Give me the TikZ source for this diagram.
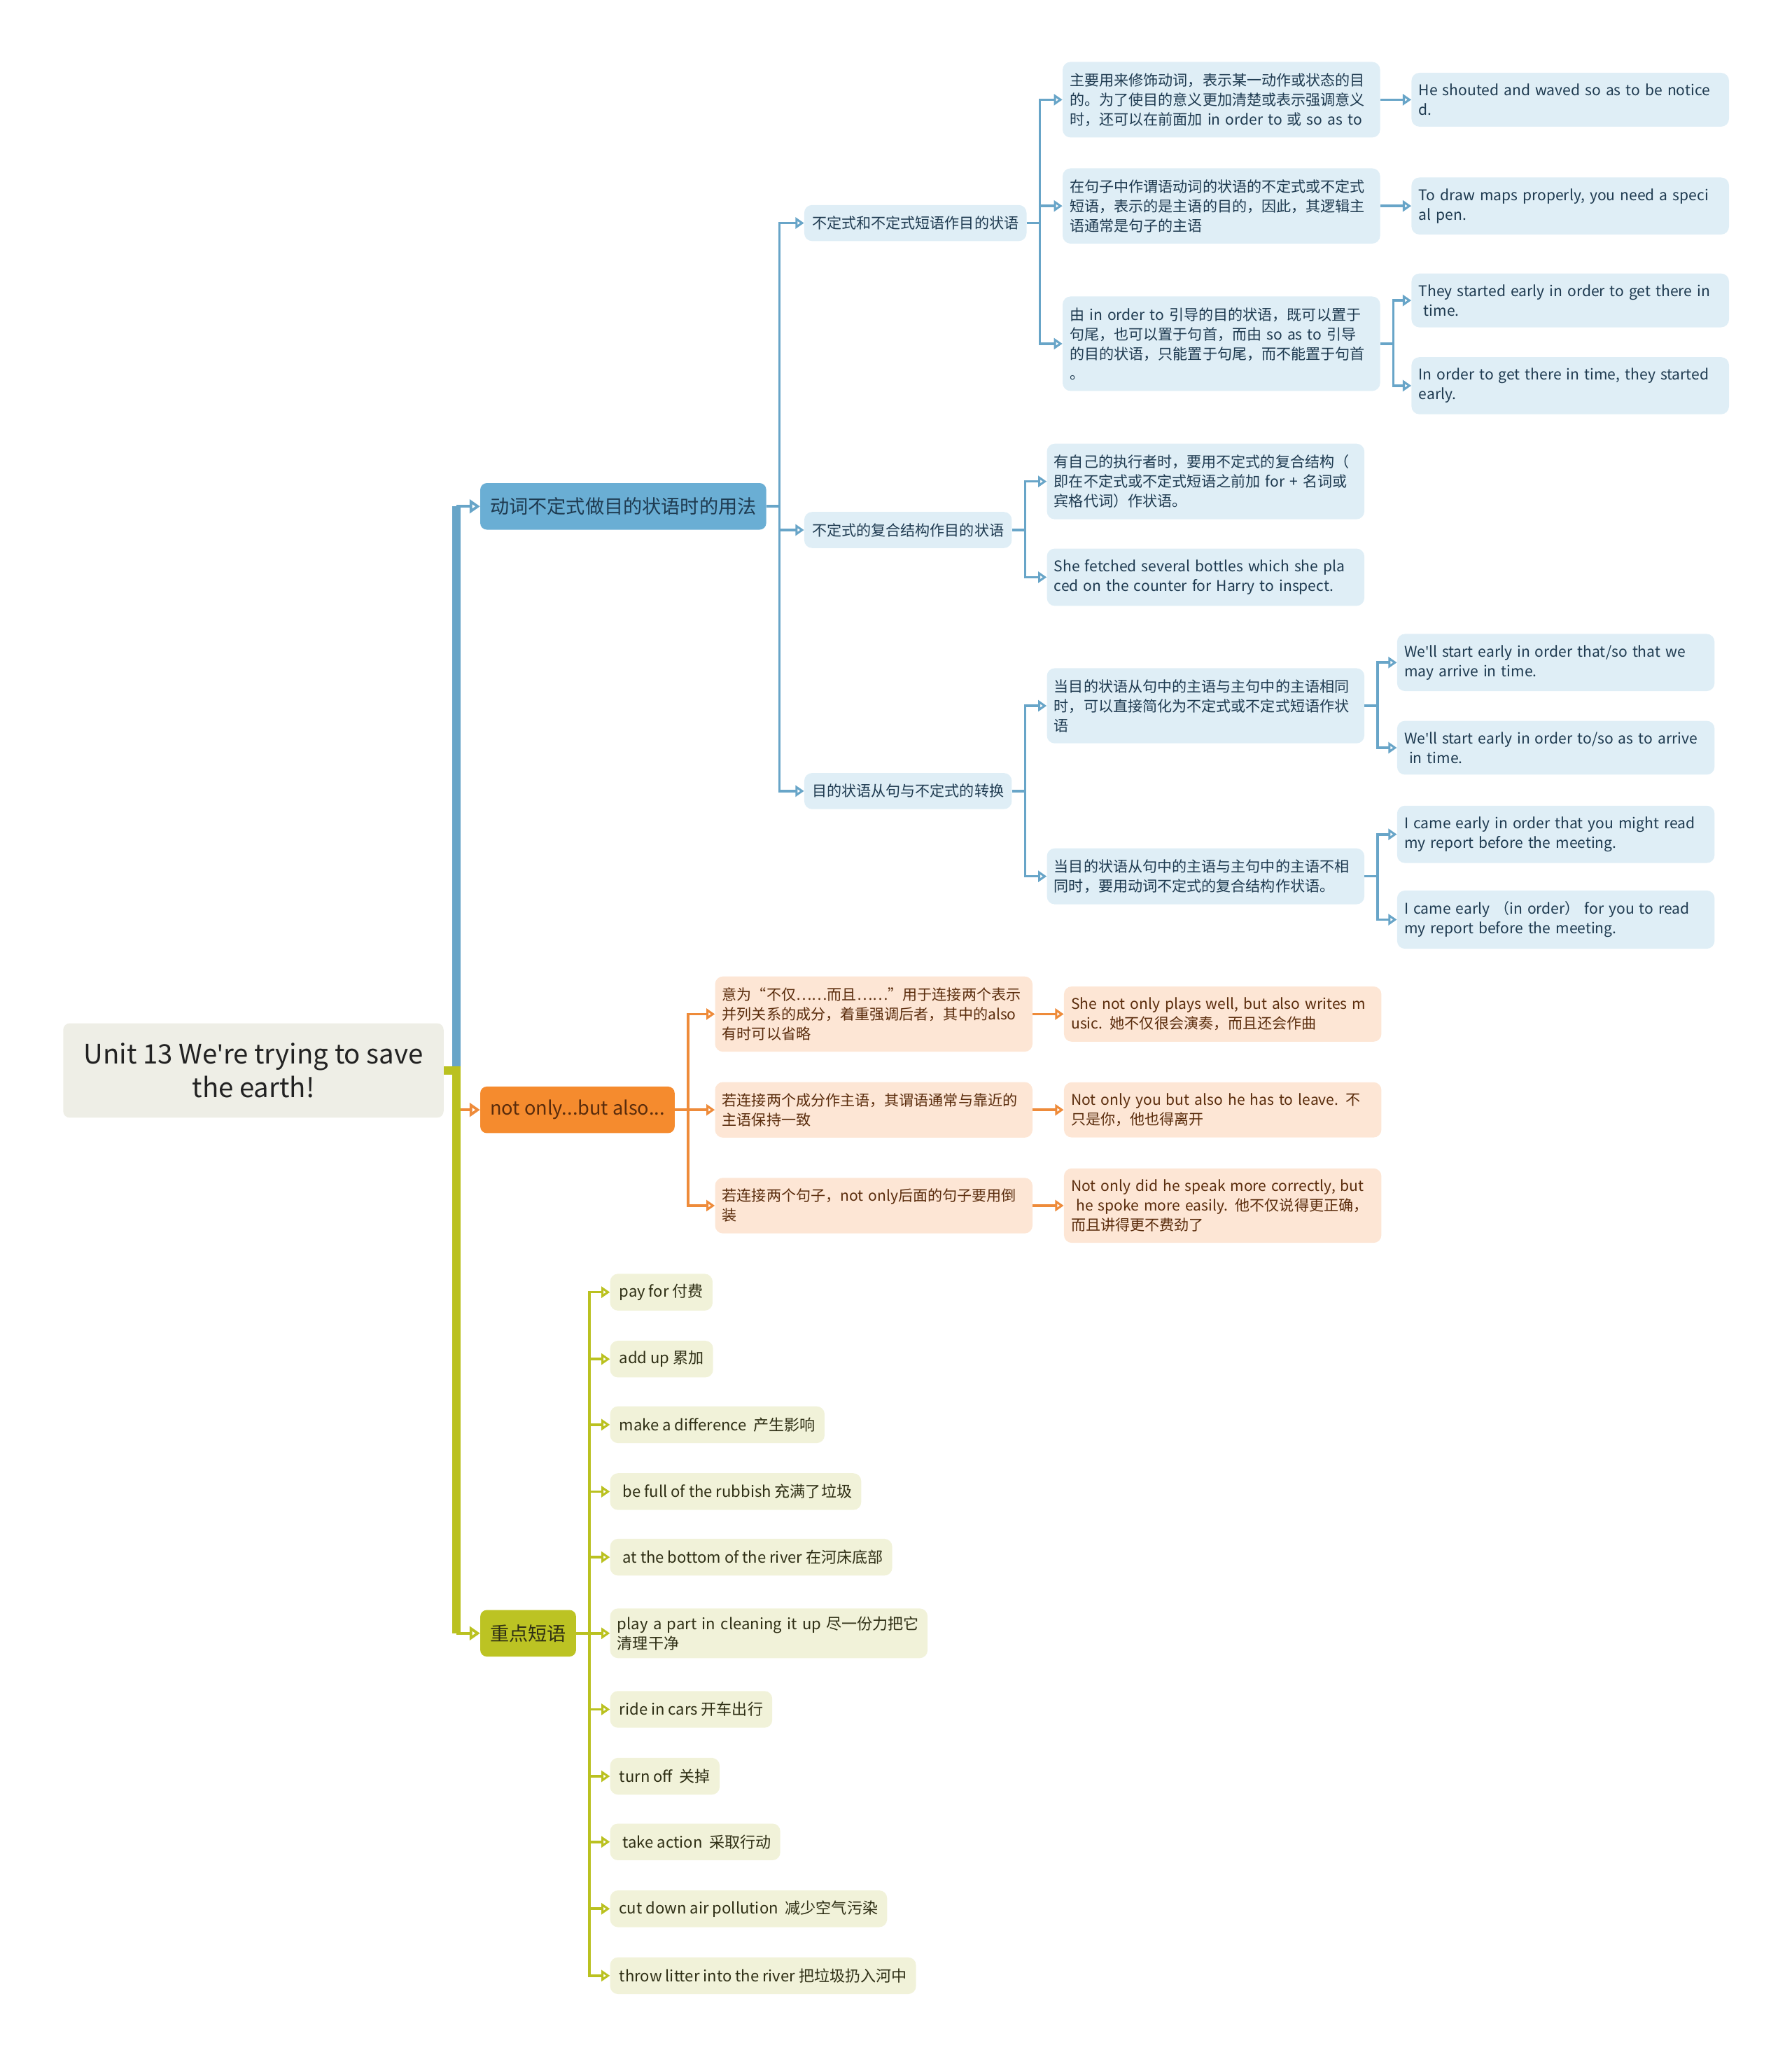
\documentclass[tikz,border=0pt]{standalone}
\usepackage{fontspec}
\setmainfont{Noto Sans CJK SC}
\newfontfamily\latinfont{Noto Sans}
\newcommand\aposign{{\latinfont'}}
\usetikzlibrary{arrows.meta,calc}

\definecolor{rootfill}{HTML}{EEEEE6}
\definecolor{rootink}{HTML}{222222}
\definecolor{bluemain}{HTML}{6AAED4}
\definecolor{bluesoft}{HTML}{DFEEF6}
\definecolor{blueline}{HTML}{68A5C8}
\definecolor{blueink}{HTML}{1E3A50}
\definecolor{orangemain}{HTML}{F58B2E}
\definecolor{orangesoft}{HTML}{FDE6D5}
\definecolor{orangeline}{HTML}{EE8B3A}
\definecolor{orangeink}{HTML}{5A2C0C}
\definecolor{greenmain}{HTML}{BCC323}
\definecolor{greensoft}{HTML}{F1F2D9}
\definecolor{greenline}{HTML}{BAC120}
\definecolor{greenink}{HTML}{2E2E14}

\begin{document}
\begin{tikzpicture}[
  x=0.04cm, y=-0.04cm,
  rootbox/.style={fill=rootfill, text=rootink, rounded corners=0.2cm, align=center, minimum width=11.6cm, minimum height=2.88cm, font=\fontsize{23.3}{29.5}\selectfont},
  mainbox/.style={rounded corners=0.2cm, minimum height=1.42cm, inner xsep=0.3cm, font=\fontsize{16.5}{20}\selectfont},
  subbox/.style={rounded corners=0.24cm, minimum height=1.1cm, inner xsep=0.24cm, font=\fontsize{12.8}{17}\selectfont},
  notebox/.style={subbox, text width=9.24cm, inner xsep=0.22cm, align=left, inner ysep=0.34cm},
  phrase/.style={subbox, minimum height=1.12cm, inner xsep=0.28cm, fill=greensoft, text=greenink, font=\fontsize{13.4}{17}\selectfont},
  bluepart/.style={fill=bluesoft, text=blueink},
  orangepart/.style={fill=orangesoft, text=orangeink},
  link/.style={line width=2.2pt, -{Triangle[open, length=0.26cm, width=0.34cm]}},
  stem/.style={line width=2.6pt, -{Triangle[open, length=0.32cm, width=0.42cm]}},
  trunk/.style={line width=0.25cm}
]
\useasboundingbox (0,0) rectangle (1366,1568);

% root and main branches
\node[rootbox, anchor=west] (root) at (48,816) {Unit 13 We\aposign re trying to save\\the earth!};
\node[mainbox, fill=bluemain, text=blueink, anchor=west] (usage) at (366,386) {动词不定式做目的状语时的用法};
\node[mainbox, fill=orangemain, text=orangeink, anchor=west] (notonly) at (366,846) {not only...but also...};
\node[mainbox, fill=greenmain, text=greenink, anchor=west] (phrases) at (366,1245) {重点短语};

% blue branch
\node[subbox, bluepart, anchor=west] (advinf) at (613,170) {不定式和不定式短语作目的状语};
\node[subbox, bluepart, anchor=west] (complex) at (613,404) {不定式的复合结构作目的状语};
\node[subbox, bluepart, anchor=west] (convert) at (613,603) {目的状语从句与不定式的转换};

\node[notebox, bluepart, anchor=west] (modify) at (810,76) {主要用来修饰动词，表示某一动作或状态的目\\的。为了使目的意义更加清楚或表示强调意义\\时，还可以在前面加 in order to 或 so as to};
\node[notebox, bluepart, anchor=west] (subject) at (810,157) {在句子中作谓语动词的状语的不定式或不定式\\短语，表示的是主语的目的，因此，其逻辑主\\语通常是句子的主语};
\node[notebox, bluepart, anchor=west] (position) at (810,262) {由 in order to 引导的目的状语，既可以置于\\句尾，也可以置于句首，而由 so as to 引导\\的目的状语，只能置于句尾，而不能置于句首\\。};
\node[notebox, bluepart, anchor=west] (shouted) at (1076,76) {He shouted and waved so as to be notice\\d.};
\node[notebox, bluepart, anchor=west] (maps) at (1076,157) {To draw maps properly, you need a speci\\al pen.};
\node[notebox, bluepart, anchor=west] (earlyend) at (1076,229) {They started early in order to get there in\\\ time.};
\node[notebox, bluepart, anchor=west] (earlyfront) at (1076,294) {In order to get there in time, they started\\early.};

\node[notebox, bluepart, anchor=west] (doer) at (798,367) {有自己的执行者时，要用不定式的复合结构（\\即在不定式或不定式短语之前加 for + 名词或\\宾格代词）作状语。};
\node[notebox, bluepart, anchor=west] (bottles) at (798,440) {She fetched several bottles which she pla\\ced on the counter for Harry to inspect.};

\node[notebox, bluepart, anchor=west] (same) at (798,538) {当目的状语从句中的主语与主句中的主语相同\\时，可以直接简化为不定式或不定式短语作状\\语};
\node[notebox, bluepart, anchor=west] (differ) at (798,668) {当目的状语从句中的主语与主句中的主语不相\\同时，要用动词不定式的复合结构作状语。};
\node[notebox, bluepart, anchor=west] (sothat) at (1065,505) {We\aposign ll start early in order that/so that we\\may arrive in time.};
\node[notebox, bluepart, anchor=west] (soasto) at (1065,570) {We\aposign ll start early in order to/so as to arrive\\\ in time.};
\node[notebox, bluepart, anchor=west] (might) at (1065,636) {I came early in order that you might read\\my report before the meeting.};
\node[notebox, bluepart, anchor=west] (foryou) at (1065,701) {I came early （in order） for you to read\\my report before the meeting.};

% orange branch
\node[notebox, orangepart, anchor=west] (meaning) at (545,773) {意为“不仅……而且……”用于连接两个表示\\并列关系的成分，着重强调后者，其中的also\\有时可以省略};
\node[notebox, orangepart, anchor=west] (agree) at (545,846) {若连接两个成分作主语，其谓语通常与靠近的\\主语保持一致};
\node[notebox, orangepart, anchor=west] (invert) at (545,919) {若连接两个句子，not only后面的句子要用倒\\装};
\node[notebox, orangepart, anchor=west] (plays) at (811,773) {She not only plays well, but also writes m\\usic. 她不仅很会演奏，而且还会作曲};
\node[notebox, orangepart, anchor=west] (leave) at (811,846) {Not only you but also he has to leave. 不\\只是你，他也得离开};
\node[notebox, orangepart, anchor=west] (speak) at (811,919) {Not only did he speak more correctly, but\\\ he spoke more easily. 他不仅说得更正确，\\而且讲得更不费劲了};

% green branch
\node[phrase, anchor=west] (payfor) at (465,985) {pay for 付费};
\node[phrase, anchor=west] (addup) at (465,1036) {add up 累加};
\node[phrase, anchor=west] (differ2) at (465,1086) {make a difference~ 产生影响};
\node[phrase, anchor=west] (rubbish) at (465,1137) {\ be full of the rubbish 充满了垃圾};
\node[phrase, anchor=west] (bottom) at (465,1187) {\ at the bottom of the river 在河床底部};
\node[notebox, fill=greensoft, text=greenink, inner ysep=0.24cm, font=\fontsize{13.4}{17}\selectfont, anchor=west] (cleanup) at (465,1245) {play a part in cleaning it up 尽一份力把它\\清理干净};
\node[phrase, anchor=west] (cars) at (465,1303) {ride in cars 开车出行};
\node[phrase, anchor=west] (turnoff) at (465,1354) {turn off~ 关掉};
\node[phrase, anchor=west] (action) at (465,1404) {\ take action~ 采取行动};
\node[phrase, anchor=west] (pollution) at (465,1455) {cut down air pollution~ 减少空气污染};
\node[phrase, anchor=west] (litter) at (465,1506) {throw litter into the river 把垃圾扔入河中};

% trunk lines from the root
\draw[trunk, blueline] (root.east) -| ($(usage.west)+(-18,0)$);
\draw[stem, blueline] ($(usage.west)+(-18,0)$) -- (usage.west);
\draw[stem, orangeline] (root.east) -- ++(10,0) |- (notonly.west);
\draw[trunk, greenline] (root.east) -| ($(phrases.west)+(-18,0)$);
\draw[stem, greenline] ($(phrases.west)+(-18,0)$) -- (phrases.west);

% blue connectors
\draw[link, blueline] (usage.east) -- ++(10,0) |- (advinf.west);
\draw[link, blueline] (usage.east) -- ++(10,0) |- (complex.west);
\draw[link, blueline] (usage.east) -- ++(10,0) |- (convert.west);
\draw[link, blueline] (advinf.east) -- ++(10,0) |- (modify.west);
\draw[link, blueline] (advinf.east) -- ++(10,0) |- (subject.west);
\draw[link, blueline] (advinf.east) -- ++(10,0) |- (position.west);
\draw[link, blueline] (modify) -- (shouted);
\draw[link, blueline] (subject) -- (maps);
\draw[link, blueline] (position.east) -- ++(10,0) |- (earlyend.west);
\draw[link, blueline] (position.east) -- ++(10,0) |- (earlyfront.west);
\draw[link, blueline] (complex.east) -- ++(10,0) |- (doer.west);
\draw[link, blueline] (complex.east) -- ++(10,0) |- (bottles.west);
\draw[link, blueline] (convert.east) -- ++(10,0) |- (same.west);
\draw[link, blueline] (convert.east) -- ++(10,0) |- (differ.west);
\draw[link, blueline] (same.east) -- ++(10,0) |- (sothat.west);
\draw[link, blueline] (same.east) -- ++(10,0) |- (soasto.west);
\draw[link, blueline] (differ.east) -- ++(10,0) |- (might.west);
\draw[link, blueline] (differ.east) -- ++(10,0) |- (foryou.west);

% orange connectors
\draw[link, orangeline] (notonly.east) -- ++(10,0) |- (meaning.west);
\draw[link, orangeline] (notonly.east) -- ++(10,0) |- (agree.west);
\draw[link, orangeline] (notonly.east) -- ++(10,0) |- (invert.west);
\draw[link, orangeline] (meaning) -- (plays);
\draw[link, orangeline] (agree) -- (leave);
\draw[link, orangeline] (invert) -- (speak);

% green connectors
\draw[link, greenline] (phrases.east) -- ++(10,0) |- (payfor.west);
\draw[link, greenline] (phrases.east) -- ++(10,0) |- (addup.west);
\draw[link, greenline] (phrases.east) -- ++(10,0) |- (differ2.west);
\draw[link, greenline] (phrases.east) -- ++(10,0) |- (rubbish.west);
\draw[link, greenline] (phrases.east) -- ++(10,0) |- (bottom.west);
\draw[link, greenline] (phrases.east) -- ++(10,0) |- (cleanup.west);
\draw[link, greenline] (phrases.east) -- ++(10,0) |- (cars.west);
\draw[link, greenline] (phrases.east) -- ++(10,0) |- (turnoff.west);
\draw[link, greenline] (phrases.east) -- ++(10,0) |- (action.west);
\draw[link, greenline] (phrases.east) -- ++(10,0) |- (pollution.west);
\draw[link, greenline] (phrases.east) -- ++(10,0) |- (litter.west);
\end{tikzpicture}
\end{document}
